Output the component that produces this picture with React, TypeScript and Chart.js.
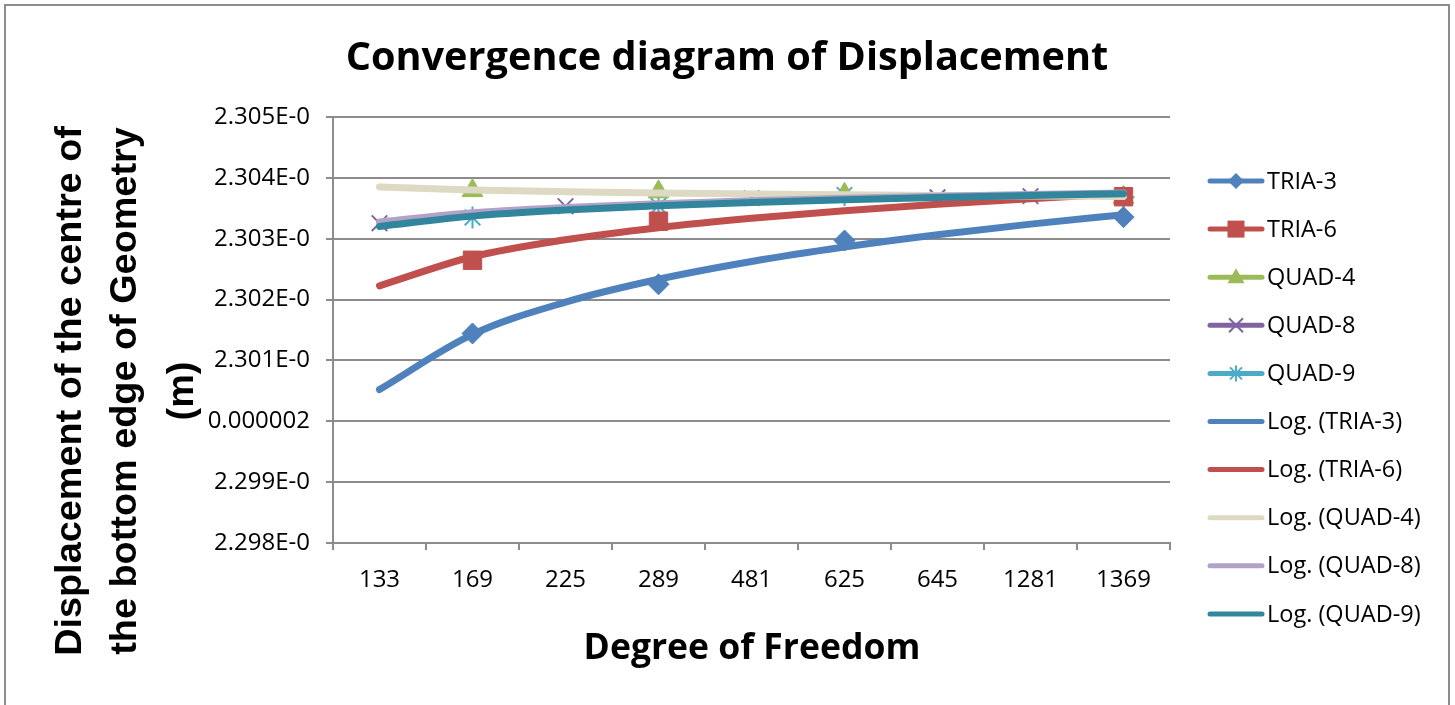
import React, { useEffect, useRef } from 'react';
import { Chart, registerables } from 'chart.js';

Chart.register(...registerables);

// ---------- data ----------
const categories = ['133', '169', '225', '289', '481', '625', '645', '1281', '1369'];

const yTickValues = [2.298e-6, 2.299e-6, 2.3e-6, 2.301e-6, 2.302e-6, 2.303e-6, 2.304e-6, 2.305e-6];
const yTickLabels = ['2.298E-0', '2.299E-0', '0.000002', '2.301E-0', '2.302E-0', '2.303E-0', '2.304E-0', '2.305E-0'];

const tria3 = [null, 2.301443e-6, null, 2.30225e-6, null, 2.30297e-6, null, null, 2.303354e-6];
const tria6 = [null, 2.302646e-6, null, 2.303288e-6, null, null, null, null, 2.30369e-6];
const quad4 = [null, 2.30379e-6, null, 2.30377e-6, null, 2.30373e-6, null, null, 2.30368e-6];
const quad8 = [2.303255e-6, null, 2.303535e-6, null, 2.303667e-6, null, 2.30368e-6, 2.3037e-6, null];
const quad9 = [null, 2.30335e-6, null, 2.30354e-6, null, 2.30372e-6, null, null, 2.30368e-6];

const seriesNames = ['TRIA-3', 'TRIA-6', 'QUAD-4', 'QUAD-8', 'QUAD-9'];
const trendNames = ['Log. (TRIA-3)', 'Log. (TRIA-6)', 'Log. (QUAD-4)', 'Log. (QUAD-8)', 'Log. (QUAD-9)'];

const titleText = 'Convergence diagram of Displacement';
const xTitleText = 'Degree of Freedom';
const yTitleLines = ['Displacement of the centre of', 'the bottom edge of Geometry', '(m)'];

// ---------- styles ----------
const seriesColors = ['#4F81BD', '#C0504D', '#9BBB59', '#8064A2', '#4BACC6'];
const trendColors = ['#4F81BD', '#C0504D', '#DDD9C3', '#B3A2C7', '#31859C'];
const pointStyles: any[] = ['rectRot', 'rect', 'triangle', 'crossRot', 'star'];
const pointRadii = [10.5, 13, 12, 11, 11];
const GRID = '#8C8C8C';
const FONT = '"Open Sans", sans-serif';

// Excel logarithmic trendline (least squares on ln(categoryIndex))
function logTrend(vals: (number | null)[]): number[] {
  const pts: [number, number][] = [];
  vals.forEach((v, i) => {
    if (v != null) pts.push([Math.log(i + 1), v]);
  });
  const n = pts.length;
  const mx = pts.reduce((s, p) => s + p[0], 0) / n;
  const my = pts.reduce((s, p) => s + p[1], 0) / n;
  let sxy = 0;
  let sxx = 0;
  pts.forEach(([x, y]) => {
    sxy += (x - mx) * (y - my);
    sxx += (x - mx) * (x - mx);
  });
  const a = sxy / sxx;
  const b = my - a * mx;
  return vals.map((_, i) => a * Math.log(i + 1) + b);
}

function fitFont(ctx: CanvasRenderingContext2D, text: string, weight: string, family: string, width: number) {
  ctx.font = `${weight} 100px ${family}`;
  const w = ctx.measureText(text).width;
  const size = (100 * width) / w;
  return `${weight} ${size.toFixed(2)}px ${family}`;
}

function drawMarker(ctx: CanvasRenderingContext2D, kind: string, x: number, y: number, color: string) {
  ctx.save();
  ctx.fillStyle = color;
  ctx.strokeStyle = color;
  ctx.lineWidth = 2;
  ctx.beginPath();
  if (kind === 'rectRot') {
    ctx.moveTo(x, y - 8);
    ctx.lineTo(x + 8, y);
    ctx.lineTo(x, y + 8);
    ctx.lineTo(x - 8, y);
    ctx.closePath();
    ctx.fill();
  } else if (kind === 'rect') {
    ctx.rect(x - 8.5, y - 8.5, 17, 17);
    ctx.fill();
  } else if (kind === 'triangle') {
    ctx.moveTo(x, y - 9);
    ctx.lineTo(x + 8.5, y + 6);
    ctx.lineTo(x - 8.5, y + 6);
    ctx.closePath();
    ctx.fill();
  } else if (kind === 'crossRot') {
    ctx.moveTo(x - 7, y - 7);
    ctx.lineTo(x + 7, y + 7);
    ctx.moveTo(x + 7, y - 7);
    ctx.lineTo(x - 7, y + 7);
    ctx.stroke();
  } else if (kind === 'star') {
    ctx.moveTo(x - 6, y - 6);
    ctx.lineTo(x + 6, y + 6);
    ctx.moveTo(x + 6, y - 6);
    ctx.lineTo(x - 6, y + 6);
    ctx.moveTo(x, y - 8);
    ctx.lineTo(x, y + 8);
    ctx.stroke();
  }
  ctx.restore();
}

const decorPlugin = {
  id: 'decor',
  beforeDraw(chart: any) {
    const ctx: CanvasRenderingContext2D = chart.ctx;
    ctx.save();
    ctx.fillStyle = '#ffffff';
    ctx.fillRect(0, 0, chart.width, chart.height);
    ctx.strokeStyle = '#8C8C8C';
    ctx.lineWidth = 2;
    ctx.strokeRect(5, 5, 1444, 720);
    ctx.restore();
  },
  afterDraw(chart: any) {
    const ctx: CanvasRenderingContext2D = chart.ctx;
    ctx.save();
    ctx.fillStyle = '#000';
    ctx.textAlign = 'center';
    ctx.textBaseline = 'middle';

    // chart title
    ctx.font = fitFont(ctx, titleText, 'bold', FONT, 763);
    ctx.fillText(titleText, 727, 59);

    // x-axis title
    ctx.font = fitFont(ctx, xTitleText, 'bold', FONT, 337);
    ctx.fillText(xTitleText, 752, 649);

    // y-axis title (rotated, three lines)
    const yFont = fitFont(ctx, yTitleLines[0], 'bold', '"Liberation Sans", Arial, sans-serif', 530);
    const lineX = [71, 126, 183];
    yTitleLines.forEach((line, i) => {
      ctx.save();
      ctx.translate(lineX[i], 391);
      ctx.rotate(-Math.PI / 2);
      ctx.font = yFont;
      ctx.fillText(line, 0, 0);
      ctx.restore();
    });

    // legend
    ctx.textAlign = 'left';
    ctx.font = `23.5px ${FONT}`;
    const names = [...seriesNames, ...trendNames];
    names.forEach((name, i) => {
      const y = 181 + i * 48.1;
      const color = i < 5 ? seriesColors[i] : trendColors[i - 5];
      ctx.save();
      ctx.strokeStyle = color;
      ctx.lineWidth = 5;
      ctx.lineCap = 'round';
      ctx.beginPath();
      ctx.moveTo(1210, y);
      ctx.lineTo(1262, y);
      ctx.stroke();
      ctx.restore();
      if (i < 5) drawMarker(ctx, pointStyles[i], 1236, y, seriesColors[i]);
      ctx.fillStyle = '#000';
      ctx.fillText(name, 1267, y + 1);
    });
    ctx.restore();
  },
};

export default function App() {
  const ref = useRef<HTMLCanvasElement>(null);

  useEffect(() => {
    const seriesData = [tria3, tria6, quad4, quad8, quad9];
    const datasets: any[] = [];
    seriesData.forEach((vals, i) => {
      const isStroke = pointStyles[i] === 'crossRot' || pointStyles[i] === 'star';
      datasets.push({
        label: seriesNames[i],
        data: vals,
        borderColor: seriesColors[i],
        backgroundColor: seriesColors[i],
        borderWidth: 4,
        pointStyle: pointStyles[i],
        pointRadius: pointRadii[i],
        pointBorderWidth: isStroke ? 2 : 1,
        pointBackgroundColor: seriesColors[i],
        pointBorderColor: seriesColors[i],
        spanGaps: false,
        order: 10,
      });
    });
    seriesData.forEach((vals, i) => {
      datasets.push({
        label: trendNames[i],
        data: logTrend(vals),
        borderColor: trendColors[i],
        backgroundColor: trendColors[i],
        borderWidth: 7,
        borderCapStyle: 'round',
        pointRadius: 0,
        cubicInterpolationMode: 'monotone',
        order: 4 - i,
      });
    });

    const chart = new Chart(ref.current as HTMLCanvasElement, {
      type: 'line',
      data: { labels: categories, datasets },
      options: {
        animation: false,
        responsive: false,
        maintainAspectRatio: false,
        layout: { padding: { top: 117, right: 285, bottom: 102, left: 0 } },
        plugins: {
          legend: { display: false },
          title: { display: false },
          tooltip: { enabled: false },
        },
        scales: {
          x: {
            type: 'category',
            offset: true,
            grid: {
              display: true,
              drawOnChartArea: false,
              drawTicks: true,
              tickLength: 7,
              color: GRID,
              lineWidth: 2,
              offset: true,
            },
            border: { display: true, color: GRID, width: 2 },
            ticks: {
              font: { family: FONT, size: 24 },
              color: '#000',
              padding: 16,
              maxRotation: 0,
              autoSkip: false,
            },
            afterFit: (s: any) => {
              s.height = 60;
            },
          },
          y: {
            type: 'linear',
            min: yTickValues[0],
            max: yTickValues[yTickValues.length - 1],
            afterBuildTicks: (s: any) => {
              s.ticks = yTickValues.map((v) => ({ value: v }));
            },
            grid: { color: GRID, lineWidth: 2, tickLength: 7, drawTicks: true },
            border: { display: true, color: GRID, width: 2 },
            ticks: {
              font: { family: FONT, size: 24 },
              color: '#000',
              padding: 16,
              callback: (_v: any, i: number) => yTickLabels[i],
            },
            afterFit: (s: any) => {
              s.width = 333;
            },
          },
        },
      } as any,
      plugins: [decorPlugin],
    });
    return () => chart.destroy();
  }, []);

  return (
    <div style={{ position: 'absolute', left: 0, top: 0, width: 1455, height: 705 }}>
      <canvas ref={ref} width={1455} height={705} style={{ display: 'block', width: 1455, height: 705 }} />
    </div>
  );
}
